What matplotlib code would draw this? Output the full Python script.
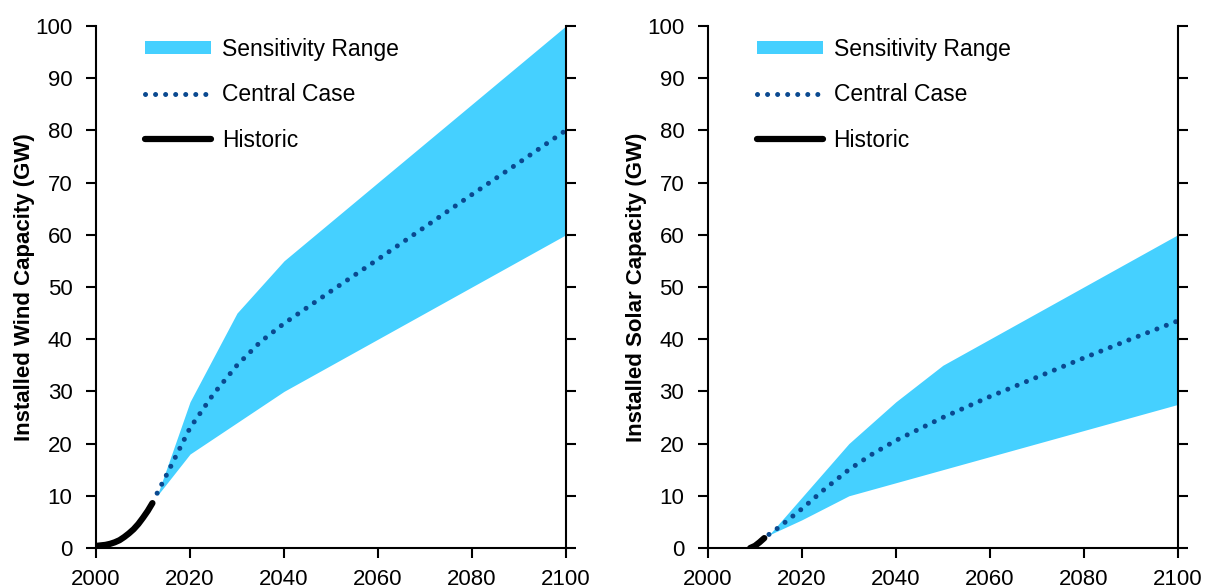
import numpy as np
import matplotlib.pyplot as plt
from matplotlib.patches import Patch
from matplotlib.lines import Line2D

plt.rcParams['font.family'] = ['Liberation Sans', 'DejaVu Sans']

# wind
wind_hist_years = [2000, 2001, 2002, 2003, 2004, 2005, 2006, 2007, 2008, 2009, 2010, 2011, 2012]
wind_hist = [0.4, 0.5, 0.6, 0.8, 1.1, 1.5, 2.1, 2.8, 3.6, 4.6, 5.8, 7.1, 8.6]
wind_band_years = [2013, 2020, 2030, 2040, 2100]
wind_upper = [10, 28, 45, 55, 100]
wind_lower = [10, 18, 24, 30, 60]
wind_central_years = [2013, 2015, 2020, 2025, 2030, 2035, 2040, 2050, 2060, 2070, 2080, 2090, 2100]
wind_central = [10.5, 14, 23, 29.5, 35, 39.5, 43, 49.2, 55.3, 61.5, 67.7, 73.8, 80]

# solar
solar_hist_years = [2009, 2010, 2011, 2012]
solar_hist = [0.0, 0.4, 1.1, 1.9]
solar_band_years = [2013, 2020, 2030, 2040, 2050, 2100]
solar_upper = [2.5, 9.7, 20, 28, 35, 60]
solar_lower = [2.5, 5.4, 10, 12.5, 15, 27.5]
solar_central_years = [2013, 2015, 2020, 2025, 2030, 2035, 2040, 2050, 2060, 2070, 2080, 2090, 2100]
solar_central = [2.6, 3.9, 7.5, 11.4, 15, 18, 20.6, 25, 29, 32.7, 36.4, 40, 43.5]

band_color = '#45D0FF'
dot_color = '#0A4990'
fs = 16

fig = plt.figure(figsize=(12.08, 5.88), dpi=100)
ax1 = fig.add_axes([0.0795, 0.068, 0.389, 0.888])
ax2 = fig.add_axes([0.586, 0.068, 0.389, 0.888])


def draw(ax, hy, hv, by, bu, bl, cy, cv, ylabel):
    ax.fill_between(by, bl, bu, color=band_color, linewidth=0)
    ax.plot(cy, cv, color=dot_color, linewidth=3.6, linestyle=(0, (0.01, 2.0)),
            dash_capstyle='round')
    ax.plot(hy, hv, color='black', linewidth=4.5, solid_capstyle='round')
    ax.set_xlim(2000, 2100)
    ax.set_ylim(0, 100)
    ax.set_xticks(np.arange(2000, 2101, 20))
    ax.set_yticks(np.arange(0, 101, 10))
    ax.spines['top'].set_visible(False)
    for s in ['left', 'right', 'bottom']:
        ax.spines[s].set_linewidth(1.5)
    ax.tick_params(direction='out', length=7, width=1.5, labelsize=fs,
                   right=True, labelright=False)
    ax.tick_params(axis='y', pad=10)
    ax.tick_params(axis='x', pad=8)
    ax.set_ylabel(ylabel, fontsize=fs, fontweight='bold', labelpad=0)
    handles = [
        Patch(facecolor=band_color, edgecolor='none', label='Sensitivity Range'),
        Line2D([], [], color=dot_color, linewidth=3.6, linestyle=(0, (0.01, 2.0)),
               dash_capstyle='round', label='Central Case'),
        Line2D([], [], color='black', linewidth=4.5, solid_capstyle='round', label='Historic'),
    ]
    ax.legend(handles=handles, loc='upper left', bbox_to_anchor=(0.104, 0.977),
              frameon=False, fontsize=16.5, handlelength=2.9, handleheight=0.52,
              labelspacing=0.98, handletextpad=0.45, borderpad=0, borderaxespad=0)


draw(ax1, wind_hist_years, wind_hist, wind_band_years, wind_upper, wind_lower,
     wind_central_years, wind_central, 'Installed Wind Capacity (GW)')
draw(ax2, solar_hist_years, solar_hist, solar_band_years, solar_upper, solar_lower,
     solar_central_years, solar_central, 'Installed Solar Capacity (GW)')

fig.savefig('out.png', dpi=100)
